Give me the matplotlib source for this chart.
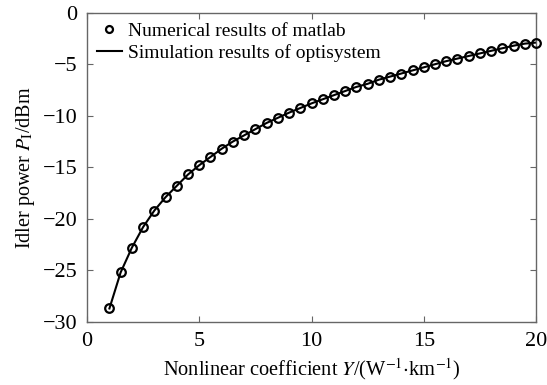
import matplotlib
matplotlib.use("Agg")
import matplotlib.pyplot as plt

gamma = [1, 1.5, 2, 2.5, 3, 3.5, 4, 4.5, 5, 5.5, 6, 6.5, 7, 7.5, 8, 8.5, 9, 9.5, 10,
         10.5, 11, 11.5, 12, 12.5, 13, 13.5, 14, 14.5, 15, 15.5, 16, 16.5, 17, 17.5,
         18, 18.5, 19, 19.5, 20]
matlab_power = [-28.7, -25.2, -22.8, -20.8, -19.2, -17.9, -16.8, -15.7, -14.8, -14.0,
                -13.2, -12.5, -11.9, -11.3, -10.7, -10.2, -9.7, -9.25, -8.8, -8.4,
                -8.0, -7.6, -7.2, -6.9, -6.5, -6.2, -5.9, -5.6, -5.3, -5.0, -4.7,
                -4.45, -4.2, -3.95, -3.7, -3.45, -3.2, -3.0, -2.9]
optisystem_power = matlab_power

plt.rcParams['font.family'] = ['Liberation Serif', 'DejaVu Serif']
plt.rcParams['mathtext.fontset'] = 'stix'

fig = plt.figure(figsize=(5.47, 3.85), dpi=100)
ax = fig.add_axes([0.159, 0.164, 0.821, 0.803])

ax.plot(gamma, optisystem_power, color='black', lw=1.5, zorder=2,
        label='Simulation results of optisystem')
ax.plot(gamma, matlab_power, linestyle='none', marker='o', markersize=6.2,
        markerfacecolor='none', markeredgecolor='black', markeredgewidth=1.6,
        zorder=3, label='Numerical results of matlab', clip_on=False)

ax.set_xlim(0, 20)
ax.set_ylim(-30, 0)
ax.set_xticks([0, 5, 10, 15, 20])
ax.set_yticks([-30, -25, -20, -15, -10, -5, 0])
ax.set_yticklabels(['\u221230', '\u221225', '\u221220', '\u221215', '\u221210', '\u22125', '0'])

for s in ax.spines.values():
    s.set_color('#666666')
    s.set_linewidth(1.0)
ax.tick_params(direction='in', top=True, right=True, length=4, width=0.8,
               color='#666666', labelsize=16, pad=7)

ax.set_xlabel(r'Nonlinear coefficient $\mathit{Y}$/(W$^{-1}$$\cdot$km$^{-1}$)', fontsize=14.7, labelpad=4)
ax.set_ylabel(r'Idler power $\mathit{P}_\mathrm{I}$/dBm', fontsize=14.5, labelpad=4)

h, l = ax.get_legend_handles_labels()
leg = ax.legend([h[1], h[0]], [l[1], l[0]], loc='upper left', frameon=False, fontsize=14,
                handlelength=1.3, handletextpad=0.3, borderaxespad=0.1, labelspacing=0.2,
                borderpad=0.4)
for lh in leg.legend_handles:
    if hasattr(lh, 'set_markersize'):
        lh.set_markersize(5)

fig.savefig('out.png', dpi=100)
